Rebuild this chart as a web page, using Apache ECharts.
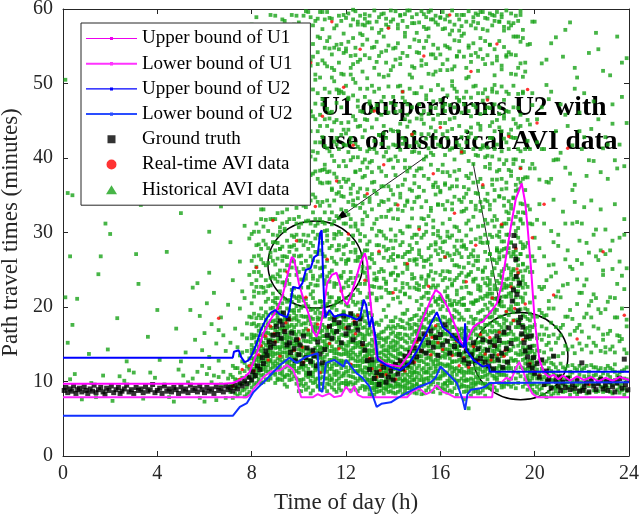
<!DOCTYPE html>
<html><head><meta charset="utf-8">
<script src="https://cdn.jsdelivr.net/npm/echarts/dist/echarts.min.js"></script>
<style>html,body{margin:0;padding:0;background:#fff}#c{width:639px;height:520px}</style>
</head><body><div id="c"></div>
<script>
// ---- axis ticks ----
const xTicks = [0, 4, 8, 12, 16, 20, 24];
const yTicks = [0, 10, 20, 30, 40, 50, 60];

// ---- bound lines: [hour, minutes] ----
const upperU1 = [[0,9.7],[6.8,9.7],[7.2,9.8],[7.5,10.2],[7.7,10.6],[7.9,11.2],[8.06,12.5],[8.3,14.5],[8.5,16.5],[8.8,18.3],[9.06,19.6],[9.3,21.4],[9.5,24],[9.7,26.7],[9.8,26.4],[10.0,23.2],[10.2,21],[10.4,19.2],[10.6,16.8],[10.75,16],[10.9,17.2],[11.0,18.7],[11.2,23.2],[11.4,24.3],[11.6,24.6],[11.75,23],[11.9,21],[12.05,20.3],[12.2,21.5],[12.4,23.5],[12.6,25.8],[12.8,27.2],[12.9,26],[13.0,22],[13.1,18.7],[13.3,13.3],[13.6,12.5],[13.9,12.2],[14.3,12],[14.7,13.8],[15.0,16],[15.3,18.7],[15.6,21],[15.8,22.3],[16.0,21.8],[16.3,20],[16.5,18.5],[16.7,16.9],[16.85,15.5],[17.0,14.5],[17.2,16],[17.4,17.3],[17.6,17.8],[17.8,18],[18.0,18.8],[18.2,19.6],[18.4,20.5],[18.6,23],[18.8,27],[19.0,31],[19.2,34.5],[19.45,36.6],[19.6,34],[19.7,30.7],[19.85,25],[20.0,18.2],[20.2,12.9],[20.4,11.2],[20.6,10.6],[20.8,10.9],[21.0,10.3],[21.2,10.8],[21.5,10.1],[21.8,10.7],[22.1,10.2],[22.4,10.6],[22.7,10.0],[23.0,10.5],[23.3,10.1],[23.6,10.6],[24,10.2]];
const lowerU1 = [[0,7.9],[7.8,7.9],[7.95,8.3],[8.06,8.9],[8.3,9.8],[8.5,10.6],[8.8,11.3],[9.2,11.5],[9.5,12.2],[9.75,11.6],[9.9,10.5],[10.0,8.9],[10.1,7.9],[10.6,7.9],[10.8,8.3],[11.0,8.0],[11.3,8.4],[11.5,7.9],[11.8,8.1],[12.0,9.3],[12.2,8.5],[12.35,9.4],[12.5,8.2],[12.7,7.9],[14.6,7.9],[14.8,8.6],[15.1,9.1],[15.4,8.3],[15.6,8.6],[15.85,9.5],[16.1,8.6],[16.3,8.4],[16.6,7.9],[18.2,7.9],[18.25,9.8],[18.6,9.9],[18.8,10.5],[19.0,10.2],[19.2,11.8],[19.35,12.6],[19.5,11.5],[19.7,9.6],[19.9,8.4],[20.1,7.9],[24,7.9]];
const upperU2 = [[0,13.2],[7.2,13.2],[7.25,14.0],[7.45,14.2],[7.55,13.3],[7.7,12.6],[7.85,12.8],[8.0,13.5],[8.2,15.0],[8.4,17.0],[8.6,18.3],[8.8,19.2],[9.0,19.6],[9.2,19.0],[9.5,18.6],[9.6,19.6],[9.75,22.7],[10.0,22.5],[10.15,23.2],[10.3,25.0],[10.5,25.2],[10.65,26.7],[10.8,27.0],[10.9,29.9],[10.97,30.3],[11.02,25],[11.07,21],[11.12,18.6],[11.3,19.6],[11.5,18.7],[11.7,18.9],[11.9,19.0],[12.2,18.7],[12.45,18.3],[12.6,18.6],[12.75,21.0],[12.85,20.3],[13.0,17.3],[13.1,18.7],[13.25,16],[13.35,12.9],[13.7,12.2],[14.0,11.8],[14.3,11.5],[14.7,12.5],[15.1,14.6],[15.4,16.5],[15.6,17.8],[15.85,19.3],[16.1,17.3],[16.4,16.5],[16.8,15.2],[17.0,14.6],[17.05,17.8],[17.1,14.2],[17.4,12.9],[17.8,12.0],[18.05,12.2],[18.1,11.3],[24,11.3]];
const lowerU2 = [[0,5.4],[7.2,5.4],[7.3,5.8],[7.5,6.6],[7.8,7.1],[8.06,8.5],[8.3,9.3],[8.6,10.2],[8.9,11.2],[9.2,12.2],[9.6,13.2],[9.9,12.5],[10.3,13.3],[10.8,13.8],[10.88,8.9],[11.0,8.6],[11.15,12.5],[11.5,12.9],[11.9,12.0],[12.0,12.9],[12.45,11.1],[12.7,10.5],[13.0,9.3],[13.2,7.5],[13.3,6.6],[13.5,7.0],[13.9,7.2],[14.2,7.8],[14.6,8.5],[15.1,9.3],[15.6,9.9],[15.8,10.5],[16.0,12.0],[16.3,11.1],[16.7,9.8],[16.95,7.5],[17.05,6.2],[17.15,8.3],[17.3,8.9],[17.7,9.1],[17.9,9.3],[18.1,9.8],[24,9.9]];

// ---- ground truth: [hour, minutes] ----
const groundTruth = [[0.05,8.8],[0.12,9.2],[0.2,8.5],[0.3,9.0],[0.38,8.7],[0.45,9.4],[0.55,8.4],[0.62,8.9],[0.7,9.1],[0.8,8.6],[0.9,9.3],[0.98,8.8],[1.05,8.4],[1.15,9.0],[1.25,8.7],[1.32,9.5],[1.4,8.5],[1.5,8.9],[1.6,9.2],[1.7,8.6],[1.78,8.3],[1.85,9.1],[1.95,8.8],[2.05,9.4],[2.15,8.5],[2.25,8.9],[2.35,9.2],[2.42,8.4],[2.5,8.7],[2.6,9.0],[2.7,9.5],[2.8,8.6],[2.9,8.9],[3.0,8.4],[3.1,9.2],[3.2,8.8],[3.3,9.0],[3.4,8.5],[3.5,9.3],[3.6,8.7],[3.7,8.9],[3.8,9.6],[3.9,8.5],[4.0,8.8],[4.1,9.1],[4.2,8.4],[4.3,9.4],[4.4,8.7],[4.5,9.0],[4.6,8.6],[4.7,9.2],[4.8,8.9],[4.9,8.4],[5.0,9.3],[5.1,8.7],[5.2,9.0],[5.3,8.5],[5.4,9.5],[5.5,8.8],[5.6,9.1],[5.7,8.6],[5.8,9.4],[5.9,8.9],[6.0,8.5],[6.1,9.2],[6.2,8.7],[6.3,9.0],[6.4,8.4],[6.5,9.3],[6.6,8.8],[6.7,9.1],[6.8,8.6],[6.9,9.4],[7.0,8.9],[7.1,9.2],[7.2,8.7],[7.3,9.5],[7.4,9.0],[7.5,9.8],
[7.6,9.4],[7.7,10.1],[7.8,9.7],[7.9,10.6],[8.0,10.2],[8.05,11.3],[8.15,10.8],[8.25,12.1],[8.35,11.6],[8.45,13.2],[8.5,12.4],[8.6,14.1],[8.65,13.5],[8.75,15.3],[8.8,14.6],[8.9,16.2],[8.95,15.1],[9.05,17.4],[9.1,16.3],[9.2,18.1],[9.25,15.8],[9.3,17.6],[9.35,19.2],[9.4,16.7],[9.5,14.9],[9.55,18.4],
[9.6,15.2],[9.65,13.9],[9.7,16.5],[9.8,14.4],[9.85,12.8],[9.9,15.6],[10.0,13.6],[10.05,14.9],[10.15,12.4],[10.2,16.1],[10.3,13.2],[10.35,14.5],[10.45,11.1],[10.5,12.7],[10.6,14.2],[10.65,13.4],[10.75,12.1],[10.8,15.3],[10.9,13.7],[11.0,12.5],
[11.1,14.3],[11.2,16.2],[11.3,17.4],[11.4,15.8],[11.5,18.3],[11.6,16.7],[11.7,17.9],[11.8,15.2],[11.9,18.8],[12.0,16.4],[12.1,17.2],[12.2,19.1],[12.3,15.6],[12.4,17.8],[12.5,16.9],[12.6,18.4],[12.7,15.1],[12.8,14.2],[12.9,12.8],
[13.0,11.6],[13.1,12.9],[13.2,10.4],[13.3,11.2],[13.4,9.6],[13.5,10.8],[13.6,11.9],[13.7,9.9],[13.8,10.6],[13.9,11.4],[14.0,10.2],[14.1,12.3],[14.2,11.0],[14.3,12.8],[14.4,11.7],[14.5,13.4],[14.6,12.2],[14.7,13.9],[14.8,12.6],
[14.9,14.5],[15.0,13.3],[15.1,15.7],[15.2,14.1],[15.3,16.4],[15.4,13.8],[15.5,15.2],[15.6,16.8],[15.7,14.6],[15.8,15.9],[15.9,13.5],[16.0,16.3],[16.1,14.9],[16.2,17.6],[16.3,15.4],[16.4,13.8],[16.5,16.2],[16.6,14.7],[16.7,15.8],[16.8,13.6],[16.9,14.9],[17.0,12.9],[17.1,14.1],[17.2,12.4],[17.3,13.6],[17.4,15.2],[17.5,12.8],[17.6,14.4],[17.7,13.1],[17.8,15.6],[17.9,12.6],
[18.0,14.2],[18.05,12.1],[18.1,15.3],[18.2,13.4],[18.25,11.7],[18.3,14.8],[18.4,16.1],[18.45,12.9],[18.5,15.5],[18.6,13.8],[18.65,11.9],[18.7,16.6],[18.8,14.4],[18.85,12.6],[18.9,17.2],[19.0,15.1],[19.05,20.8],[19.1,22.3],[19.12,29.6],[19.15,28.2],[19.2,26.4],[19.22,24.1],[19.25,21.7],[19.3,19.5],[19.32,17.9],[19.35,23.2],[19.4,18.6],[19.45,16.4],[19.5,17.3],[19.55,15.2],[19.6,14.1],[19.65,16.0],[19.7,13.3],[19.75,12.2],[19.8,14.6],[19.85,16.1],[19.9,11.8],[19.95,13.2],[20.0,11.1],[20.1,12.4],[20.2,10.6],[20.3,12.9],[20.5,11.4],[20.6,10.3],[20.8,13.4],
[20.4,9.6],[20.55,10.0],[20.7,9.1],[20.9,10.2],[21.0,9.4],[21.05,10.6],[21.1,8.8],[21.2,9.9],[21.3,9.2],[21.4,10.4],[21.5,8.9],[21.6,9.6],[21.7,9.1],[21.8,10.1],[21.9,8.7],[22.0,12.5],[22.05,8.8],[22.1,9.3],[22.2,9.8],[22.3,8.6],[22.4,10.2],[22.5,9.4],[22.6,8.9],[22.7,9.7],[22.8,10.3],[22.9,9.0],[23.0,9.5],[23.05,10.1],[23.1,8.8],[23.2,10.0],[23.3,9.3],[23.4,8.6],[23.5,9.8],[23.6,10.4],[23.7,9.1],[23.8,13.0],[23.85,9.6],[23.95,8.9]];

// ---- real-time AVI data: [hour, minutes] ----
const realTimeAVI = [[6.6,18.5],[7.2,9.4],[7.5,10.3],[7.6,11.6],[7.8,36.2],[7.9,12.1],[8.1,11.4],[8.2,25.3],[8.3,13.6],[8.4,14.8],[8.5,47.2],[8.6,16.1],[8.7,12.9],[8.8,17.4],[8.9,31.6],[8.95,16.4],[9.0,15.3],[9.1,19.8],[9.2,13.4],[9.3,42.5],[9.4,16.8],[9.45,17.9],[9.5,24.7],[9.6,18.3],[9.7,56.1],[9.8,14.2],[9.9,28.9],[10.0,15.7],[10.1,38.4],[10.15,14.6],[10.2,12.6],[10.3,21.3],[10.4,16.9],[10.5,52.8],[10.6,13.8],[10.7,33.5],[10.8,17.7],[10.9,11.2],[11.0,45.6],[11.1,19.2],[11.2,26.4],[11.25,17.3],[11.3,15.1],[11.4,58.3],[11.5,18.6],[11.6,36.9],[11.7,14.4],[11.8,22.1],[11.9,49.5],[12.0,17.2],[12.1,29.8],[12.2,12.3],[12.3,41.7],[12.35,18.1],[12.4,16.4],[12.5,18.9],[12.6,54.6],[12.7,14.9],[12.8,23.6],[12.9,35.2],[13.0,13.1],[13.1,11.7],[13.2,46.3],[13.3,10.6],[13.4,27.5],[13.45,11.5],[13.5,12.2],[13.6,39.1],[13.7,10.9],[13.8,57.4],[13.9,11.8],[14.0,21.9],[14.1,10.3],[14.2,33.7],[14.3,12.7],[14.4,48.9],[14.5,11.4],[14.6,25.8],[14.7,13.9],[14.8,43.2],[14.9,12.6],[15.0,15.3],[15.1,30.4],[15.2,14.1],[15.3,53.7],[15.4,16.2],[15.5,22.8],[15.6,13.6],[15.65,15.9],[15.7,37.9],[15.8,17.5],[15.9,15.2],[16.0,44.1],[16.1,14.3],[16.2,26.7],[16.3,16.8],[16.4,59.2],[16.5,13.5],[16.6,32.6],[16.7,15.4],[16.8,12.1],[16.9,40.8],[17.0,13.2],[17.1,23.4],[17.2,11.9],[17.3,51.6],[17.4,14.7],[17.5,28.3],[17.6,12.8],[17.7,16.3],[17.8,36.4],[17.9,13.7],[18.0,47.8],[18.1,15.9],[18.15,12.9],[18.2,21.2],[18.3,14.8],[18.4,55.3],[18.45,13.6],[18.5,16.6],[18.6,31.1],[18.7,13.4],[18.75,14.2],[18.8,19.4],[18.9,42.9],[19.0,22.7],[19.1,18.2],[19.15,19.8],[19.2,27.9],[19.25,25.1],[19.3,24.6],[19.4,38.6],[19.5,15.6],[19.6,20.4],[19.7,49.2],[19.8,12.4],[19.9,29.3],[20.0,11.3],[20.1,44.7],[20.2,10.8],[20.4,33.8],[20.6,9.9],[20.8,21.6],[21.1,10.4],[21.4,41.3],[21.8,15.7],[22.3,9.6],[22.9,27.4],[23.4,10.1],[23.8,18.9]];

// ---- historical AVI data: flat pairs, hour*10, minutes*10 ----
const histNight = [3,103, 8,76, 12,98, 17,108, 21,74, 26,101, 30,112, 34,77, 39,105, 43,96, 47,73, 51,108, 55,104, 58,78, 61,110, 63,99, 65,75, 66,106, 68,113, 69,78, 5,110, 14,79, 24,107, 37,112, 45,79, 53,99, 57,113, 60,73, 64,108, 67,96, 70,104, 62,118, 59,121, 28,115, 49,116,
2,152, 6,211, 11,137, 16,268, 19,143, 23,185, 27,127, 32,231, 36,160, 41,129, 44,274, 48,171, 52,139, 54,196, 56,156, 57,232, 58,188, 59,142, 60,165, 61,205, 62,133, 63,177, 64,219, 65,151, 66,128, 67,186, 68,162, 69,141, 70,203, 55,226, 62,246, 66,169, 50,127, 40,196,
1,505, 4,350, 9,419, 13,568, 18,312, 22,445, 25,383, 29,527, 33,337, 38,472, 42,398, 46,551, 50,326, 53,412, 56,359, 59,486, 62,301, 64,388, 67,335, 69,452, 31,271, 15,244, 20,298, 2,353, 3,268, 1,213, 4,176];
const histDawn = [71,86, 72,94, 73,103, 74,81, 75,112, 76,97, 77,89, 78,120, 79,105, 71,109, 72,78, 73,91, 74,118, 75,84, 76,127, 77,99, 78,92, 79,131, 71,95, 72,121, 73,84, 74,102, 75,96, 76,88, 77,114, 78,107, 79,86, 70,92, 74,93, 76,105, 78,83, 79,117, 77,125, 75,135, 73,118, 72,106, 76,139, 78,141, 79,98, 77,80,
71,152, 73,171, 74,146, 75,198, 76,163, 77,212, 78,158, 79,187, 72,236, 76,221, 78,178, 79,243,
71,287, 73,342, 75,261, 76,415, 77,309, 78,376, 79,292, 74,488];
const histH08 = [80,101, 81,117, 82,129, 83,143, 84,108, 85,152, 86,137, 87,165, 88,149, 89,172,
80,124, 81,96, 82,141, 83,118, 84,133, 85,121, 86,158, 87,127, 88,181, 89,139,
80,138, 81,131, 82,107, 83,156, 84,147, 85,109, 86,119, 87,146, 88,129, 89,191,
80,112, 81,145, 82,118, 83,99, 84,162, 85,138, 86,172, 87,113, 88,163, 89,155,
80,149, 81,106, 82,153, 83,134, 84,121, 85,176, 86,103, 87,189, 88,117, 89,124,
80,92, 81,159, 82,98, 83,127, 84,185, 85,144, 86,149, 87,134, 88,141, 89,208,
80,163, 81,123, 82,174, 83,168, 84,116, 85,99, 86,183, 87,156, 88,198, 89,111,
80,131, 81,178, 82,133, 83,111, 84,141, 85,164, 86,126, 87,102, 88,127, 89,181,
80,177, 81,139, 82,162, 83,189, 84,198, 85,127, 86,207, 87,176, 88,109, 89,147,
80,231, 81,268, 82,312, 83,247, 84,389, 85,226, 86,284, 87,455, 88,239, 89,297,
80,356, 81,442, 82,254, 83,518, 84,278, 85,331, 86,236, 87,302, 88,376, 89,262,
80,579, 81,301, 82,397, 83,284, 84,242, 85,468, 86,349, 87,259, 88,541, 89,318,
81,221, 83,362, 85,289, 87,228, 89,411, 82,227, 84,318, 86,426, 88,267, 89,576];
const histH09 = [90,121, 91,146, 92,103, 93,168, 94,187, 95,134, 96,159, 97,112, 98,142, 99,176,
90,154, 91,118, 92,171, 93,139, 94,96, 95,162, 96,188, 97,151, 98,107, 99,128,
90,182, 91,167, 92,137, 93,114, 94,151, 95,109, 96,127, 97,195, 98,173, 99,149,
90,98, 91,191, 92,158, 93,192, 94,128, 95,183, 96,102, 97,134, 98,124, 99,104,
90,137, 91,104, 92,199, 93,157, 94,172, 95,146, 96,147, 97,168, 98,196, 99,163,
90,206, 91,131, 92,122, 93,102, 94,211, 95,121, 96,174, 97,121, 98,154, 99,188,
90,113, 91,158, 92,146, 93,126, 94,139, 95,198, 96,115, 97,183, 98,117, 99,137,
90,169, 91,212, 92,111, 93,181, 94,106, 95,152, 96,209, 97,103, 98,185, 99,201,
90,145, 91,124, 92,183, 93,205, 94,163, 95,172, 96,136, 97,158, 98,131, 99,114,
90,192, 91,179, 92,129, 93,147, 94,119, 95,93, 96,166, 97,216, 98,164, 99,152,
90,238, 91,265, 92,301, 93,347, 94,229, 95,412, 96,274, 97,253, 98,318, 99,367,
90,453, 91,326, 92,249, 93,281, 94,389, 95,236, 96,502, 97,342, 98,261, 99,434,
90,287, 91,528, 92,372, 93,233, 94,305, 95,267, 96,359, 97,471, 98,225, 99,297,
90,361, 91,244, 92,447, 93,586, 94,268, 95,331, 96,243, 97,398, 98,545, 99,252,
90,512, 91,392, 92,278, 93,426, 94,563, 95,289, 96,421, 97,281, 98,376, 99,591,
90,276, 91,296, 92,558, 93,312, 94,467, 95,498, 96,318, 97,564, 98,283, 99,333];
const histH10 = [100,126, 101,148, 102,103, 103,171, 104,92, 105,137, 106,184, 107,115, 108,159, 109,132,
100,167, 101,87, 102,155, 103,121, 104,143, 105,196, 106,98, 107,172, 108,124, 109,208,
100,95, 101,176, 102,132, 103,204, 104,117, 105,84, 106,141, 107,157, 108,93, 109,146,
100,143, 101,121, 102,187, 103,89, 104,168, 105,153, 106,126, 107,99, 108,186, 109,112,
100,208, 101,199, 102,116, 103,145, 104,201, 105,112, 106,173, 107,134, 108,141, 109,171,
100,112, 101,136, 102,94, 103,163, 104,129, 105,177, 106,107, 107,192, 108,117, 109,89,
100,181, 101,102, 102,168, 103,108, 104,154, 105,124, 106,157, 107,118, 108,172, 109,158,
100,154, 101,163, 102,141, 103,136, 104,106, 105,141, 106,212, 107,167, 108,104, 109,123,
100,102, 101,213, 102,201, 103,187, 104,182, 105,163, 106,121, 107,145, 108,197, 109,184,
100,136, 101,128, 102,125, 103,97, 104,138, 105,101, 106,88, 107,206, 108,131, 109,97,
100,247, 101,289, 102,336, 103,262, 104,418, 105,231, 106,301, 107,254, 108,372, 109,276,
100,392, 101,237, 102,468, 103,315, 104,278, 105,531, 106,263, 107,347, 108,229, 109,443,
100,289, 101,511, 102,251, 103,384, 104,226, 105,312, 106,456, 107,292, 108,587, 109,318,
100,564, 101,338, 102,297, 103,243, 104,349, 105,268, 106,379, 107,505, 108,271, 109,252,
100,321, 101,426, 102,591, 103,487, 104,296, 105,402, 106,238, 107,318, 108,436, 109,561,
100,473, 101,269, 102,386, 103,552, 104,523, 105,343, 106,578, 107,421, 108,312, 109,367];
const histH11 = [110,131, 111,92, 112,158, 113,117, 114,176, 115,143, 116,101, 117,188, 118,125, 119,162,
110,97, 111,149, 112,123, 113,184, 114,104, 115,165, 116,138, 117,96, 118,173, 119,111,
110,168, 111,118, 112,191, 113,141, 114,129, 115,89, 116,177, 117,147, 118,107, 119,194,
110,145, 111,173, 112,104, 113,96, 114,156, 115,202, 116,114, 117,128, 118,152, 119,137,
110,113, 111,201, 112,136, 113,163, 114,92, 115,124, 116,196, 117,169, 118,88, 119,122,
110,187, 111,133, 112,87, 113,207, 114,141, 115,109, 116,153, 117,104, 118,189, 119,171,
110,154, 111,104, 112,172, 113,129, 114,199, 115,181, 116,86, 117,212, 118,136, 119,98,
110,106, 111,161, 112,146, 113,108, 114,117, 115,138, 116,168, 117,137, 118,118, 119,151,
110,201, 111,187, 112,113, 113,174, 114,167, 115,158, 116,122, 117,91, 118,206, 119,183,
110,122, 111,127, 112,204, 113,151, 114,186, 115,97, 116,207, 117,159, 118,163, 119,108,
110,253, 111,302, 112,241, 113,367, 114,282, 115,448, 116,231, 117,319, 118,264, 119,396,
110,341, 111,236, 112,413, 113,279, 114,521, 115,261, 116,352, 117,487, 118,298, 119,247,
110,472, 111,385, 112,296, 113,234, 114,327, 115,574, 116,276, 117,241, 118,431, 119,312,
110,286, 111,527, 112,343, 113,461, 114,249, 115,315, 116,492, 117,368, 118,553, 119,271,
110,596, 111,268, 112,557, 113,318, 114,403, 115,232, 116,418, 117,277, 118,349, 119,512,
110,384, 111,452, 112,262, 113,588, 114,359, 115,379, 116,297, 117,546, 118,242, 119,438];
const histH12 = [120,126, 121,153, 122,99, 123,178, 124,136, 125,112, 126,164, 127,141, 128,93, 129,118,
120,171, 121,108, 122,142, 123,121, 124,89, 125,189, 126,104, 127,172, 128,156, 129,136,
120,94, 121,186, 122,167, 123,145, 124,158, 125,133, 126,197, 127,115, 128,127, 129,92,
120,148, 121,127, 122,118, 123,96, 124,203, 125,162, 126,128, 127,94, 128,181, 129,164,
120,203, 121,96, 122,191, 123,162, 124,114, 125,87, 126,146, 127,158, 128,107, 129,127,
120,113, 121,167, 122,131, 123,207, 124,172, 125,148, 126,91, 127,204, 128,142, 129,103,
120,182, 121,139, 122,88, 123,113, 124,98, 125,121, 126,177, 127,131, 128,173, 129,149,
120,137, 121,201, 122,153, 123,185, 124,146, 125,206, 126,116, 127,102, 128,119, 129,112,
120,101, 121,114, 122,212, 123,131, 124,187, 125,101, 126,153, 127,186, 128,194, 129,178,
120,161, 121,176, 122,107, 123,153, 124,121, 125,174, 126,139, 127,147, 128,89, 129,132,
120,258, 121,324, 122,239, 123,401, 124,277, 125,346, 126,231, 127,462, 128,295, 129,252,
120,417, 121,263, 122,359, 123,286, 124,538, 125,242, 126,384, 127,271, 128,327, 129,493,
120,312, 121,481, 122,274, 123,232, 124,336, 125,415, 126,298, 127,565, 128,246, 129,358,
120,547, 121,291, 122,521, 123,343, 124,262, 125,579, 126,443, 127,317, 128,398, 129,284,
120,368, 121,236, 122,427, 123,506, 124,451, 125,303, 126,267, 127,374, 128,587, 129,236,
120,233, 121,438, 122,308, 123,599, 124,381, 125,267, 126,532, 127,248, 128,452, 129,409];
const histH13 = [130,83, 131,112, 132,97, 133,143, 134,121, 135,88, 136,156, 137,104, 138,131, 139,95,
130,126, 131,91, 132,138, 133,86, 134,163, 135,117, 136,99, 137,142, 138,86, 139,152,
130,151, 131,134, 132,82, 133,118, 134,94, 135,147, 136,123, 137,89, 138,109, 139,118,
130,98, 131,167, 132,116, 133,103, 134,138, 135,101, 136,84, 137,171, 138,147, 139,87,
130,172, 131,103, 132,153, 133,161, 134,87, 135,131, 136,142, 137,118, 138,96, 139,136,
130,109, 131,82, 132,104, 133,92, 134,152, 135,182, 136,108, 137,96, 138,174, 139,103,
130,137, 131,148, 132,177, 133,127, 134,109, 135,94, 136,167, 137,153, 138,121, 139,164,
130,89, 131,121, 132,92, 133,179, 134,176, 135,158, 136,91, 137,127, 138,138, 139,112,
130,192, 131,189, 132,126, 133,108, 134,99, 135,109, 136,136, 137,187, 138,101, 139,181,
130,117, 131,98, 132,164, 133,97, 134,128, 135,123, 136,196, 137,111, 138,159, 139,94,
130,218, 131,264, 132,312, 133,236, 134,387, 135,251, 136,296, 137,223, 138,344, 139,267,
130,341, 131,228, 132,412, 133,283, 134,247, 135,476, 136,238, 137,321, 138,219, 139,398,
130,473, 131,367, 132,245, 133,529, 134,302, 135,226, 136,433, 137,276, 138,511, 139,243,
130,266, 131,497, 132,356, 133,318, 134,568, 135,342, 136,281, 137,408, 138,262, 139,583,
130,582, 131,305, 132,549, 133,212, 134,431, 135,593, 136,362, 137,544, 138,397, 139,331,
130,394, 131,441, 132,227, 133,452, 134,272, 135,382, 136,509, 137,234, 138,461, 139,289];
const histH14 = [140,92, 141,123, 142,86, 143,147, 144,109, 145,132, 146,97, 147,158, 148,118, 149,141,
140,134, 141,97, 142,152, 143,104, 144,83, 145,171, 146,126, 147,91, 148,163, 149,102,
140,117, 141,161, 142,112, 143,88, 144,146, 145,95, 146,152, 147,134, 148,87, 149,177,
140,166, 141,84, 142,131, 143,173, 144,127, 145,112, 146,84, 147,113, 148,141, 149,123,
140,85, 141,142, 142,103, 143,126, 144,191, 145,154, 146,178, 147,171, 148,102, 149,94,
140,147, 141,109, 142,176, 143,96, 144,101, 145,86, 146,109, 147,99, 148,184, 149,156,
140,103, 141,186, 142,94, 143,157, 144,158, 145,191, 146,143, 147,146, 148,127, 149,112,
140,181, 141,132, 142,143, 143,115, 144,93, 145,121, 146,196, 147,85, 148,96, 149,188,
140,126, 141,101, 142,164, 143,138, 144,116, 145,102, 146,118, 147,183, 148,153, 149,131,
140,155, 141,172, 142,121, 143,183, 144,173, 145,143, 146,91, 147,124, 148,112, 149,85,
140,246, 141,289, 142,213, 143,352, 144,267, 145,424, 146,231, 147,308, 148,278, 149,376,
140,319, 141,236, 142,396, 143,221, 144,481, 145,258, 146,341, 147,512, 148,244, 149,297,
140,523, 141,377, 142,268, 143,446, 144,299, 145,563, 146,274, 147,226, 148,408, 149,239,
140,271, 141,548, 142,331, 143,283, 144,364, 145,217, 146,472, 147,387, 148,581, 149,433,
140,436, 141,253, 142,574, 143,497, 144,226, 145,336, 146,598, 147,263, 148,319, 149,521,
140,387, 141,462, 142,242, 143,591, 144,419, 145,387, 146,256, 147,449, 148,356, 149,262];
const histH15 = [150,97, 151,134, 152,116, 153,162, 154,88, 155,147, 156,181, 157,123, 158,158, 159,104,
150,141, 151,89, 152,172, 153,103, 154,138, 155,112, 156,96, 157,194, 158,117, 159,167,
150,118, 151,163, 152,94, 153,147, 154,171, 155,189, 156,141, 157,86, 158,136, 159,203,
150,176, 151,111, 152,141, 153,84, 154,123, 155,92, 156,163, 157,148, 158,207, 159,128,
150,84, 151,182, 152,128, 153,191, 154,104, 155,168, 156,118, 157,171, 158,93, 159,146,
150,153, 151,146, 152,203, 153,126, 154,193, 155,132, 156,202, 157,112, 158,162, 159,91,
150,129, 151,102, 152,83, 153,112, 154,149, 155,211, 156,87, 157,139, 158,121, 159,183,
150,189, 151,197, 152,157, 153,173, 154,113, 155,101, 156,129, 157,99, 158,184, 159,114,
150,106, 151,127, 152,186, 153,139, 154,162, 155,157, 156,152, 157,213, 158,104, 159,158,
150,164, 151,168, 152,107, 153,96, 154,184, 155,123, 156,174, 157,161, 158,146, 159,136,
150,232, 151,276, 152,319, 153,254, 154,402, 155,241, 156,283, 157,361, 158,226, 159,337,
150,383, 151,229, 152,458, 153,297, 154,262, 155,513, 156,248, 157,298, 158,427, 159,271,
150,297, 151,541, 152,267, 153,376, 154,231, 155,322, 156,468, 157,237, 158,582, 159,302,
150,568, 151,348, 152,524, 153,227, 154,479, 155,264, 156,391, 157,539, 158,287, 159,458,
150,453, 151,417, 152,238, 153,593, 154,311, 155,432, 156,586, 157,316, 158,367, 159,229,
150,264, 151,307, 152,386, 153,446, 154,557, 155,596, 156,333, 157,452, 158,516, 159,384];
const histH16 = [160,118, 161,152, 162,97, 163,173, 164,131, 165,86, 166,144, 167,109, 168,162, 169,126,
160,91, 161,123, 162,164, 163,112, 164,98, 165,157, 166,186, 167,137, 168,92, 169,171,
160,146, 161,187, 162,121, 163,85, 164,168, 165,119, 166,103, 167,194, 168,141, 169,104,
160,172, 161,96, 162,143, 163,136, 164,117, 165,202, 166,127, 167,82, 168,183, 169,148,
160,104, 161,167, 162,186, 163,154, 164,203, 165,139, 166,162, 167,153, 168,114, 169,93,
160,197, 161,134, 162,109, 163,196, 164,88, 165,98, 166,91, 167,118, 168,207, 169,186,
160,132, 161,108, 162,207, 163,101, 164,149, 165,173, 166,208, 167,171, 168,129, 169,137,
160,158, 161,201, 162,132, 163,123, 164,183, 165,107, 166,114, 167,96, 168,101, 169,159,
160,211, 161,143, 162,89, 163,213, 164,107, 165,188, 166,151, 167,204, 168,154, 169,117,
160,84, 161,178, 162,156, 163,143, 164,138, 165,126, 166,173, 167,146, 168,169, 169,203,
160,243, 161,287, 162,331, 163,226, 164,376, 165,263, 166,308, 167,239, 168,417, 169,281,
160,356, 161,248, 162,472, 163,295, 164,237, 165,503, 166,271, 167,362, 168,254, 169,428,
160,518, 161,391, 162,267, 163,436, 164,318, 165,229, 166,454, 167,289, 168,557, 169,246,
160,279, 161,573, 162,364, 163,549, 164,452, 165,339, 166,236, 167,481, 168,302, 169,592,
160,447, 161,312, 162,586, 163,272, 164,566, 165,413, 166,523, 167,256, 168,384, 169,341,
160,589, 161,469, 162,239, 163,381, 164,293, 165,571, 166,382, 167,537, 168,478, 169,267];
const histH17 = [170,76, 171,112, 172,93, 173,148, 174,127, 175,163, 176,104, 177,137, 178,182, 179,119,
170,124, 171,87, 172,158, 173,104, 174,92, 175,131, 176,176, 177,98, 178,141, 179,167,
170,157, 171,146, 172,116, 173,81, 174,168, 175,96, 176,128, 177,153, 178,106, 179,92,
170,101, 171,172, 172,133, 173,187, 174,111, 175,184, 176,89, 177,194, 178,123, 179,144,
170,183, 171,121, 172,64, 173,126, 174,149, 175,118, 176,162, 177,116, 178,196, 179,203,
170,139, 171,196, 172,179, 173,97, 174,204, 175,142, 176,143, 177,172, 178,88, 179,131,
170,94, 171,101, 172,142, 173,164, 174,86, 175,208, 176,117, 177,85, 178,159, 179,108,
170,168, 171,134, 172,102, 173,117, 174,137, 175,87, 176,192, 177,127, 178,134, 179,187,
170,113, 171,159, 172,196, 173,206, 174,178, 175,154, 176,99, 177,213, 178,113, 179,156,
170,203, 171,93, 172,127, 173,139, 174,102, 175,106, 176,209, 177,161, 178,171, 179,97,
170,234, 171,278, 172,316, 173,247, 174,392, 175,262, 176,229, 177,341, 178,286, 179,253,
170,361, 171,241, 172,428, 173,287, 174,256, 175,497, 176,308, 177,227, 178,414, 179,297,
170,481, 171,352, 172,259, 173,538, 174,321, 175,238, 176,446, 177,372, 178,249, 179,526,
170,283, 171,507, 172,373, 173,271, 174,583, 175,404, 176,268, 177,561, 178,334, 179,388,
170,567, 171,312, 172,551, 173,456, 174,237, 175,331, 176,592, 177,293, 178,487, 179,232,
170,329, 171,436, 172,244, 173,379, 174,471, 175,574, 176,368, 177,443, 178,596, 179,317];
const histH18 = [180,96, 181,134, 182,117, 183,168, 184,143, 185,187, 186,109, 187,152, 188,214, 189,127,
180,128, 181,91, 182,156, 183,104, 184,196, 185,121, 186,173, 187,98, 188,146, 189,238,
180,163, 181,178, 182,89, 183,137, 184,112, 185,159, 186,207, 187,184, 188,118, 189,164,
180,142, 181,112, 182,203, 183,92, 184,167, 185,98, 186,134, 187,226, 188,173, 189,102,
180,187, 181,153, 182,131, 183,211, 184,88, 185,232, 186,96, 187,117, 188,193, 189,189,
180,109, 181,206, 182,174, 183,127, 184,224, 185,142, 186,248, 187,163, 188,97, 189,141,
180,214, 181,127, 182,108, 183,181, 184,131, 185,176, 186,119, 187,93, 188,256, 189,117,
180,131, 181,168, 182,243, 183,153, 184,102, 185,109, 186,187, 187,201, 188,137, 189,218,
180,92, 181,97, 182,141, 183,229, 184,154, 185,203, 186,152, 187,136, 188,226, 189,153,
180,176, 181,224, 182,187, 183,116, 184,179, 185,264, 186,92, 187,251, 188,163, 189,273,
180,239, 181,186, 182,96, 183,197, 184,118, 185,127, 186,223, 187,178, 188,108, 189,96,
180,287, 181,331, 182,264, 183,412, 184,296, 185,348, 186,276, 187,453, 188,312, 189,384,
180,403, 181,271, 182,489, 183,322, 184,536, 185,294, 186,372, 187,288, 188,421, 189,297,
180,342, 181,552, 182,316, 183,263, 184,382, 185,468, 186,309, 187,571, 188,279, 189,462,
180,571, 181,386, 182,427, 183,498, 184,276, 185,583, 186,519, 187,346, 188,538, 189,326,
180,468, 181,443, 182,592, 183,357, 184,451, 185,398, 186,436, 187,392, 188,359, 189,574,
180,312, 181,297, 182,371, 183,584, 184,317, 185,273, 186,593, 187,278, 188,489, 189,412];
const histH19 = [190,104, 191,147, 192,182, 193,126, 194,213, 195,163, 196,97, 197,138, 198,112, 199,89,
190,156, 191,113, 192,241, 193,194, 194,141, 195,118, 196,187, 197,104, 198,157, 199,123,
190,201, 191,226, 192,129, 193,264, 194,176, 195,207, 196,131, 197,172, 198,93, 199,108,
190,131, 191,182, 192,156, 193,98, 194,287, 195,241, 196,156, 197,117, 198,182, 199,141,
190,247, 191,97, 192,213, 193,157, 194,119, 195,93, 196,218, 197,196, 198,128, 199,96,
190,178, 191,274, 192,104, 193,221, 194,248, 195,284, 196,103, 197,146, 198,206, 199,162,
190,93, 191,163, 192,296, 193,136, 194,162, 195,146, 196,249, 197,89, 198,101, 199,118,
190,268, 191,208, 192,173, 193,306, 194,107, 195,189, 196,171, 197,227, 198,144, 199,132,
190,142, 191,128, 192,118, 193,183, 194,197, 195,312, 196,124, 197,159, 198,119, 199,97,
190,219, 191,312, 192,268, 193,112, 194,318, 195,129, 196,281, 197,108, 198,168, 199,187,
190,287, 191,251, 192,91, 193,237, 194,136, 195,226, 196,139, 197,253, 198,96, 199,104,
190,337, 191,392, 192,356, 193,441, 194,367, 195,338, 196,412, 197,286, 198,331, 199,268,
190,428, 191,346, 192,512, 193,372, 194,458, 195,487, 196,326, 197,374, 198,247, 199,392,
190,539, 191,468, 192,398, 193,563, 194,527, 195,396, 196,528, 197,451, 198,412, 199,311,
190,382, 191,581, 192,446, 193,327, 194,592, 195,561, 196,374, 197,336, 198,553, 199,487,
190,594, 191,427, 192,563, 193,486, 194,409];
const histH20 = [200,97, 201,84, 202,112, 203,91, 204,106, 205,79, 206,118, 207,93, 208,101, 209,87,
200,121, 201,104, 202,89, 203,117, 204,82, 205,96, 206,108, 207,81, 208,123, 209,99,
200,86, 201,116, 202,97, 203,103, 204,124, 205,111, 206,86, 207,114, 208,92, 209,119,
200,109, 201,93, 202,128, 203,83, 204,95, 205,102, 206,97, 207,102, 208,84, 209,108,
200,133, 201,126, 202,104, 203,129, 204,113, 205,127, 206,131, 207,125, 208,112, 209,91,
200,148, 201,187, 202,163, 203,224, 204,139, 205,171, 206,256, 207,143, 208,198, 209,152,
200,213, 201,142, 202,279, 203,156, 204,188, 205,236, 206,161, 207,302, 208,134, 209,246,
200,262, 201,317, 202,141, 203,192, 204,268, 205,149, 206,208, 207,179, 208,287, 209,173,
200,386, 201,452, 202,371, 203,527, 204,412, 205,368, 206,479, 207,554, 208,397, 209,436, 200,583, 203,412, 205,498, 207,372, 209,562];
const histH21 = [210,93, 211,108, 212,86, 213,117, 214,99, 215,82, 216,112, 217,94, 218,104, 219,88,
210,114, 211,91, 212,103, 213,96, 214,121, 215,107, 216,89, 217,118, 218,83, 219,109,
210,84, 211,124, 212,119, 213,87, 214,92, 215,113, 216,101, 217,86, 218,116, 219,97,
210,102, 212,96, 214,106, 216,122, 218,95, 219,121, 211,99, 215,93,
210,158, 211,213, 212,176, 213,264, 214,143, 215,196, 216,312, 217,168, 218,237, 219,151,
210,282, 212,138, 213,187, 215,254, 216,147, 217,341, 218,172, 219,219, 214,231, 211,162,
210,398, 211,472, 212,536, 213,387, 214,443, 215,582, 216,417, 217,364, 218,508, 219,461, 213,572, 217,493];
const histH22 = [220,91, 221,107, 222,84, 223,113, 224,97, 225,88, 226,119, 227,102, 228,93, 229,111,
220,116, 221,89, 222,103, 223,94, 224,122, 225,108, 226,86, 227,115, 228,106, 229,92,
220,99, 221,118, 222,121, 223,85, 224,104, 225,96, 226,109, 227,87, 228,118, 229,101,
221,95, 223,107, 225,119, 227,98, 229,86,
220,167, 221,229, 222,148, 223,273, 224,186, 225,152, 226,304, 227,197, 228,141, 229,243,
220,258, 222,191, 224,139, 226,212, 228,276, 229,163, 221,334, 225,217,
220,412, 221,487, 222,376, 223,541, 224,439, 225,396, 226,568, 227,452, 228,381, 229,517];
const histH23 = [230,94, 231,109, 232,86, 233,116, 234,99, 235,89, 236,112, 237,97, 238,104, 239,87,
230,117, 231,92, 232,106, 233,95, 234,123, 235,108, 236,85, 237,114, 238,91, 239,119,
230,101, 231,121, 232,118, 233,84, 234,102, 235,97, 236,106, 237,88, 238,116, 239,103,
230,88, 232,98, 234,113, 236,93, 238,82,
230,146, 231,207, 232,168, 233,251, 234,139, 235,186, 236,293, 237,157, 238,224, 239,174,
230,271, 232,143, 234,212, 236,161, 238,318, 239,138,
230,428, 231,372, 232,511, 233,446, 234,397, 235,563, 236,418, 237,482, 238,389, 239,534];
const histUpperAM = [80,205, 81,247, 82,283, 83,219, 84,264, 85,308, 86,221, 87,356, 88,273, 89,241,
80,298, 81,214, 82,346, 83,301, 84,227, 85,259, 86,392, 87,211, 88,318, 89,287,
80,416, 81,372, 82,236, 83,447, 84,331, 85,493, 86,256, 87,406, 88,229, 89,362,
80,262, 81,511, 82,412, 83,269, 84,574, 85,383, 86,532, 87,279, 88,453, 89,218,
80,353, 82,589, 84,446, 86,317, 88,592, 81,427, 83,546, 85,219, 87,498, 89,521,
90,212, 91,234, 92,221, 93,268, 94,249, 95,207, 96,231, 97,296, 98,214, 99,243,
90,257, 91,203, 92,278, 93,215, 94,302, 95,256, 96,281, 97,223, 98,269, 99,212,
90,318, 91,286, 92,241, 93,327, 94,233, 95,314, 96,209, 97,338, 98,294, 99,277,
90,344, 91,358, 92,307, 93,262, 94,352, 95,366, 96,348, 97,262, 98,341, 99,312,
90,396, 91,417, 92,382, 93,397, 94,421, 95,384, 96,397, 97,431, 98,406, 99,371,
90,437, 91,462, 92,418, 93,478, 94,442, 95,451, 96,472, 97,409, 98,459, 99,482,
90,486, 91,503, 92,492, 93,516, 94,497, 95,534, 96,459, 97,521, 98,508, 99,544,
90,553, 91,571, 92,536, 93,548, 94,584, 95,577, 96,567, 97,592, 98,579, 99,528,
90,591, 91,547, 92,427, 93,373, 94,527, 95,437, 96,543, 97,483, 98,387, 99,418,
100,214, 101,226, 102,209, 103,238, 104,255, 105,217, 106,242, 107,229, 108,261, 109,207,
100,268, 101,259, 102,283, 103,211, 104,227, 105,286, 106,221, 107,274, 108,236, 109,293,
100,307, 101,312, 102,236, 103,334, 104,316, 105,248, 106,327, 107,309, 108,341, 109,241,
100,358, 101,374, 102,361, 103,288, 104,383, 105,377, 106,351, 107,382, 108,297, 109,336,
100,412, 101,398, 102,429, 103,418, 104,444, 105,436, 106,409, 107,452, 108,407, 109,421,
100,462, 101,483, 102,497, 103,453, 104,476, 105,463, 106,492, 107,473, 108,487, 109,458,
100,517, 101,539, 102,527, 103,509, 104,548, 105,524, 106,536, 107,512, 108,542, 109,508,
100,582, 101,561, 102,571, 103,597, 104,573, 105,589, 106,553, 107,584, 108,563, 109,596,
100,348, 101,433, 102,551, 103,376, 104,596, 105,462, 106,282, 107,398, 108,526, 109,383,
110,207, 111,231, 112,218, 113,246, 114,213, 115,227, 116,258, 117,211, 118,239, 119,226,
110,271, 111,254, 112,289, 113,213, 114,266, 115,292, 116,207, 117,283, 118,224, 119,281,
110,314, 111,327, 112,303, 113,336, 114,311, 115,343, 116,322, 117,301, 118,331, 119,348,
110,366, 111,391, 112,367, 113,382, 114,357, 115,396, 116,374, 117,389, 118,361, 119,372,
110,428, 111,416, 112,443, 113,409, 114,437, 115,422, 116,451, 117,412, 118,447, 119,418,
110,479, 111,493, 112,466, 113,488, 114,462, 115,503, 116,474, 117,491, 118,468, 119,487,
110,531, 111,548, 112,523, 113,547, 114,539, 115,518, 116,552, 117,528, 118,513, 119,541,
110,573, 111,586, 112,596, 113,562, 114,587, 115,548, 116,578, 117,591, 118,584, 119,567,
110,243, 111,312, 112,381, 113,453, 114,508, 115,298, 116,427, 117,354, 118,489, 119,592];
const histUpperMid = [120,212, 121,228, 122,247, 123,216, 124,239, 125,262, 126,219, 127,254, 128,231, 129,276,
120,283, 121,264, 122,217, 123,296, 124,308, 125,223, 126,289, 127,207, 128,276, 129,213,
120,329, 121,341, 122,318, 123,337, 124,312, 125,354, 126,333, 127,311, 128,349, 129,322,
120,389, 121,371, 122,397, 123,364, 124,382, 125,401, 126,359, 127,394, 128,376, 129,387,
120,433, 121,448, 122,421, 123,456, 124,419, 125,442, 126,463, 127,428, 128,437, 129,451,
120,497, 121,479, 122,512, 123,484, 124,501, 125,469, 126,493, 127,516, 128,482, 129,507,
120,543, 121,556, 122,537, 123,561, 124,548, 125,529, 126,567, 127,552, 128,538, 129,559,
120,588, 121,594, 122,578, 123,586, 124,597, 125,583, 126,591, 127,579, 128,593, 129,582,
120,262, 121,408, 122,352, 123,526, 124,273, 125,477, 126,412, 127,339, 128,578, 129,241,
130,204, 131,218, 132,237, 133,209, 134,226, 135,213, 136,248, 137,231, 138,202, 139,219,
130,288, 131,271, 132,259, 133,296, 134,283, 135,301, 136,266, 137,292, 138,278, 139,304,
130,346, 131,331, 132,368, 133,352, 134,337, 135,362, 136,341, 137,376, 138,329, 139,357,
130,412, 131,396, 132,423, 133,407, 134,431, 135,419, 136,402, 137,427, 138,414, 139,438,
130,476, 131,463, 132,489, 133,471, 134,493, 135,458, 136,482, 137,467, 138,496, 139,474,
130,534, 131,548, 132,521, 133,556, 134,537, 135,542, 136,563, 137,528, 138,551, 139,518,
130,591, 131,574, 132,598, 133,583, 134,589, 135,572, 136,594, 137,587, 138,576, 139,598,
130,253, 131,381, 132,466, 133,239, 134,512, 135,321, 136,443, 137,579, 138,362, 139,245,
140,211, 141,224, 142,243, 143,206, 144,232, 145,218, 146,251, 147,213, 148,238, 149,226,
140,279, 141,296, 142,268, 143,302, 144,287, 145,271, 146,308, 147,283, 148,293, 149,264,
140,351, 141,338, 142,362, 143,347, 144,329, 145,371, 146,343, 147,358, 148,332, 149,366,
140,418, 141,402, 142,436, 143,411, 144,427, 145,397, 146,442, 147,416, 148,431, 149,409,
140,482, 141,471, 142,496, 143,463, 144,489, 145,476, 146,458, 147,493, 148,468, 149,487,
140,547, 141,532, 142,554, 143,526, 144,541, 145,568, 146,537, 147,549, 148,523, 149,559,
140,586, 141,597, 142,579, 143,592, 144,584, 145,593, 146,576, 147,598, 148,589, 149,581,
140,263, 141,417, 142,318, 143,534, 144,246, 145,452, 146,382, 147,274, 148,508, 149,341,
150,208, 151,223, 152,241, 153,214, 154,236, 155,219, 156,257, 157,229, 158,246, 159,211,
150,286, 151,271, 152,293, 153,262, 154,301, 155,279, 156,268, 157,307, 158,284, 159,296,
150,347, 151,361, 152,334, 153,356, 154,342, 155,372, 156,329, 157,364, 158,351, 159,338,
150,421, 151,407, 152,432, 153,398, 154,426, 155,413, 156,441, 157,404, 158,436, 159,418,
150,487, 151,472, 152,495, 153,463, 154,484, 155,459, 156,491, 157,476, 158,467, 159,498,
150,542, 151,557, 152,531, 153,548, 154,526, 155,563, 156,539, 157,552, 158,534, 159,547,
150,593, 151,582, 152,597, 153,576, 154,589, 155,574, 156,598, 157,586, 158,591, 159,579,
150,257, 151,386, 152,452, 153,318, 154,573, 155,243, 156,407, 157,512, 158,276, 159,361,
150,224, 152,212, 154,219, 156,226, 158,208];
const histUpperPM = [160,214, 161,236, 162,221, 163,248, 164,209, 165,231, 166,256, 167,217, 168,243, 169,226,
160,293, 161,274, 162,288, 163,301, 164,269, 165,296, 166,281, 167,307, 168,272, 169,289,
160,354, 161,337, 162,366, 163,342, 164,359, 165,331, 166,348, 167,371, 168,344, 169,328,
160,416, 161,432, 162,404, 163,427, 164,411, 165,439, 166,398, 167,421, 168,443, 169,407,
160,478, 161,492, 162,463, 163,484, 164,471, 165,497, 166,468, 167,489, 168,476, 169,461,
160,539, 161,526, 162,551, 163,532, 164,547, 165,519, 166,558, 167,536, 168,543, 169,564,
160,588, 161,596, 162,574, 163,591, 164,583, 165,598, 166,579, 167,592, 168,586, 169,577,
160,263, 161,381, 162,447, 163,518, 164,247, 165,362, 166,493, 167,276, 168,571, 169,412,
161,208, 163,215, 165,204, 167,222, 169,211,
170,212, 171,227, 172,243, 173,218, 174,234, 175,209, 176,251, 177,222, 178,238, 179,215,
170,281, 171,296, 172,267, 173,304, 174,276, 175,291, 176,262, 177,287, 178,309, 179,274,
170,347, 171,332, 172,358, 173,341, 174,367, 175,336, 176,352, 177,329, 178,361, 179,344,
170,408, 171,421, 172,396, 173,433, 174,412, 175,427, 176,403, 177,438, 178,417, 179,401,
170,472, 171,489, 172,463, 173,481, 174,496, 175,468, 176,487, 177,459, 178,477, 179,492,
170,536, 171,521, 172,548, 173,529, 174,554, 175,541, 176,517, 177,546, 178,533, 179,557,
170,592, 171,583, 172,597, 173,578, 174,589, 175,594, 176,581, 177,596, 178,573, 179,588,
170,253, 171,376, 172,509, 173,441, 174,268, 175,353, 176,536, 177,412, 178,247, 179,462,
170,203, 172,219, 174,206, 176,224, 178,211,
180,218, 181,236, 182,247, 183,224, 184,259, 185,213, 186,241, 187,268, 188,229, 189,252,
180,286, 181,271, 182,294, 183,308, 184,279, 185,301, 186,288, 187,312, 188,297, 189,318,
180,352, 181,337, 182,364, 183,343, 184,371, 185,349, 186,358, 187,336, 188,367, 189,342,
180,414, 181,427, 182,402, 183,436, 184,418, 185,441, 186,409, 187,426, 188,397, 189,432,
180,481, 181,467, 182,493, 183,472, 184,488, 185,459, 186,496, 187,478, 188,463, 189,486,
180,538, 181,552, 182,527, 183,546, 184,531, 185,557, 186,524, 187,549, 188,536, 189,542,
180,587, 181,594, 182,578, 183,591, 184,596, 185,583, 186,589, 187,576, 188,598, 189,582,
180,263, 181,392, 182,448, 183,511, 184,276, 185,384, 186,239, 187,457, 188,328, 189,297,
180,229, 181,218, 182,212, 183,252, 184,235, 185,267, 186,308, 187,231, 188,214, 189,279,
190,214, 191,237, 192,221, 193,246, 194,229, 195,258, 190,286, 191,271, 192,302, 193,293, 194,316, 195,279,
190,332, 191,347, 192,321, 193,358, 194,339, 195,327, 190,376, 191,398, 192,364, 193,412, 194,387, 195,372,
190,438, 191,452, 192,427, 193,467, 194,443, 195,489, 190,513, 191,497, 192,538, 193,521, 194,556, 195,509,
190,578, 191,563, 192,591, 193,584, 194,597, 195,572,
196,231, 197,268, 198,312, 199,247, 196,357, 197,423, 198,386, 199,471, 196,516, 197,552, 198,445, 199,583,
192,262, 193,228, 194,271, 191,249, 190,243, 195,236];
const histUpperEve = [200,137, 201,158, 202,196, 203,174, 204,227, 205,189, 206,152, 207,241, 208,163, 209,214, 200,293, 202,338, 204,312, 206,367, 208,344, 201,421, 203,468, 205,532, 207,489, 209,398, 200,176, 202,227, 204,163, 206,198, 208,257,
210,134, 211,172, 212,229, 213,148, 214,187, 215,163, 216,251, 217,138, 218,204, 219,176, 210,297, 212,328, 214,276, 216,357, 218,314, 211,407, 213,458, 215,379, 217,521, 219,436, 210,221, 213,312, 216,184, 218,263, 219,289,
220,143, 221,186, 222,237, 223,159, 224,208, 225,174, 226,148, 227,263, 228,192, 229,156, 220,312, 222,286, 224,343, 226,268, 228,331, 221,428, 223,397, 225,476, 227,546, 229,413, 220,219, 223,202, 225,297, 227,171, 229,249,
230,139, 231,164, 232,213, 233,147, 234,186, 235,231, 236,154, 237,198, 238,143, 239,252, 230,304, 232,276, 234,338, 236,261, 238,297, 231,418, 233,472, 235,386, 237,528, 239,447, 230,197, 233,289, 235,162, 237,242, 239,183];
const histCore = [80,115, 81,128, 82,152, 83,103, 84,171, 85,135, 86,114, 87,178, 88,156, 89,119,
80,186, 81,162, 82,121, 83,176, 84,127, 85,188, 86,166, 87,141, 88,104, 89,163,
80,143, 81,109, 82,185, 83,132, 84,154, 85,116, 86,193, 87,122, 88,172, 89,134,
80,158, 81,191, 82,113, 83,147, 84,98, 85,161, 86,131, 87,152, 88,136, 89,199,
90,127, 91,138, 92,164, 93,109, 94,145, 95,177, 96,122, 97,141, 98,167, 99,134,
90,163, 91,102, 92,117, 93,152, 94,183, 95,126, 96,196, 97,129, 98,148, 99,183,
90,109, 91,154, 92,193, 93,171, 94,107, 95,157, 96,143, 97,176, 98,121, 99,97,
90,176, 91,186, 92,143, 93,133, 94,158, 95,139, 96,108, 97,207, 98,192, 99,158,
100,118, 101,142, 102,163, 103,129, 104,187, 105,108, 106,134, 107,177, 108,149, 109,166,
100,195, 101,97, 102,121, 103,154, 104,111, 105,186, 106,168, 107,103, 108,121, 109,104,
100,151, 101,188, 102,146, 103,178, 104,163, 105,129, 106,112, 107,138, 108,183, 109,143,
100,87, 101,119, 102,178, 103,112, 104,136, 105,159, 106,197, 107,156, 108,94, 109,192,
110,139, 111,116, 112,168, 113,126, 114,147, 115,177, 116,131, 117,112, 118,146, 119,127,
110,176, 111,142, 112,97, 113,158, 114,121, 115,132, 116,186, 117,174, 118,98, 119,176,
110,118, 111,193, 112,149, 113,102, 114,169, 115,113, 116,143, 117,123, 118,179, 119,143,
110,161, 111,154, 112,121, 113,191, 114,102, 115,164, 116,109, 117,156, 118,128, 119,192,
120,119, 121,134, 122,176, 123,106, 124,151, 125,127, 126,183, 127,112, 128,161, 129,141,
120,142, 121,162, 122,122, 123,168, 124,128, 125,171, 126,121, 127,163, 128,134, 129,102,
120,187, 121,98, 122,158, 123,139, 124,178, 125,114, 126,136, 127,189, 128,112, 129,169,
120,97, 121,148, 122,136, 123,189, 124,104, 125,152, 126,105, 127,126, 128,147, 129,189,
130,102, 131,126, 132,108, 133,131, 134,114, 135,97, 136,128, 137,113, 138,142, 139,106,
130,142, 131,98, 132,143, 133,112, 134,132, 135,139, 136,112, 137,158, 138,117, 139,127,
130,121, 131,156, 132,121, 133,148, 134,98, 135,114, 136,148, 137,91, 138,128, 139,146,
130,163, 131,141, 132,88, 133,93, 134,158, 135,166, 136,99, 137,134, 138,93, 139,171,
140,108, 141,117, 142,137, 143,122, 144,136, 145,104, 146,134, 147,106, 148,132, 149,113,
140,142, 141,148, 142,97, 143,93, 144,101, 145,126, 146,101, 147,141, 148,108, 149,148,
140,121, 141,93, 142,159, 143,137, 144,122, 145,163, 146,124, 147,119, 148,172, 149,103,
140,174, 141,153, 142,117, 143,164, 144,181, 145,91, 146,162, 147,176, 148,92, 149,167,
150,112, 151,121, 152,148, 153,118, 154,131, 155,105, 156,134, 157,153, 158,113, 159,123,
150,137, 151,158, 152,102, 153,152, 154,112, 155,141, 156,108, 157,127, 158,172, 159,152,
150,168, 151,93, 152,134, 153,183, 154,156, 155,179, 156,163, 157,105, 158,129, 159,97,
150,96, 151,173, 152,176, 153,99, 154,197, 155,117, 156,192, 157,182, 158,152, 159,176,
160,124, 161,113, 162,137, 163,121, 164,143, 165,112, 166,136, 167,127, 168,114, 169,132,
160,151, 161,141, 162,112, 163,163, 164,122, 165,148, 166,117, 167,163, 168,148, 169,112,
160,107, 161,163, 162,172, 163,94, 164,178, 165,182, 166,157, 167,101, 168,137, 169,164,
160,182, 161,91, 162,98, 163,181, 164,102, 165,127, 166,196, 167,143, 168,191, 169,96,
170,108, 171,127, 172,112, 173,136, 174,117, 175,124, 176,134, 177,106, 178,127, 179,137,
170,148, 171,103, 172,151, 173,112, 174,142, 175,98, 176,111, 177,146, 178,152, 179,114,
170,131, 171,163, 172,87, 173,158, 174,97, 175,171, 176,152, 177,121, 178,97, 179,176,
170,86, 171,141, 172,168, 173,91, 174,183, 175,149, 176,84, 177,182, 178,166, 179,81,
180,117, 181,146, 182,127, 183,158, 184,134, 185,113, 186,163, 187,127, 188,182, 189,143,
180,154, 181,119, 182,166, 183,141, 184,211, 185,168, 186,138, 187,214, 188,126, 189,197,
180,198, 181,193, 182,149, 183,107, 184,146, 185,243, 186,201, 187,109, 188,152, 189,121,
180,103, 181,231, 182,218, 183,192, 184,105, 185,148, 186,117, 187,168, 188,237, 189,228,
190,118, 191,156, 192,138, 193,173, 194,152, 195,137, 196,116, 197,127, 198,139, 199,112,
190,167, 191,193, 192,204, 193,148, 194,233, 195,176, 196,143, 197,163, 198,113, 199,148,
190,231, 191,128, 192,158, 193,256, 194,183, 195,257, 196,198, 197,184, 198,174, 199,127,
190,196, 191,238, 192,276, 193,204, 194,271, 195,212, 196,167, 197,102, 198,191, 199,173];

// ---- annotation (data coordinates) ----
const annotationText = 'U1 outperforms U2 with\nuse of historical AVI data';
const circleCenters = [[10.7, 25.7], [19.4, 13.4]];
const circleRadius = [2.01, 5.85];
const arrowSegments = [[[15.44, 40.3], [11.58, 31.7]], [[17.39, 39.3], [18.53, 20.0]]];

// ---- build ----
const histGroups = [histNight, histDawn, histH08, histH09, histH10, histH11, histH12, histH13, histH14, histH15, histH16, histH17, histH18, histH19, histH20, histH21, histH22, histH23, histUpperAM, histUpperMid, histUpperPM, histUpperEve, histCore];
const histData = [];
histGroups.forEach(function (g) { for (let i = 0; i + 1 < g.length; i += 2) histData.push([g[i] / 10, g[i + 1] / 10]); });

const FONT = '"Liberation Serif", "Times New Roman", serif';
const AX = '#262626';
// legend icons: tiny corner slivers pin the icon box to 51x10 so inner shapes keep their proportions
const BOX = 'M0,0L0.01,0L0,0.01Z M51,10L50.99,10L51,9.99Z ';
const iconThin = 'path://' + BOX + 'M0,4.4L51,4.4L51,5.6L0,5.6Z M24,3.5L27,3.5L27,6.5L24,6.5Z';
const iconThick = 'path://' + BOX + 'M0,4L51,4L51,6L0,6Z M24,3.3L27,3.3L27,6.7L24,6.7Z';
const iconSquare = 'path://' + BOX + 'M21.5,1L29.5,1L29.5,9L21.5,9Z';
const iconCircle = 'path://' + BOX + 'M20.5,5A5,5 0 1,0 30.5,5A5,5 0 1,0 20.5,5Z';
const iconTriangle = 'path://' + BOX + 'M25.5,0.5L31,9.5L20,9.5Z';

const chart = echarts.init(document.getElementById('c'), null, { renderer: 'canvas' });
const axisCommon = {
  type: 'value', axisLine: { show: true, onZero: false, lineStyle: { color: AX, width: 1 } },
  axisTick: { show: true, inside: true, length: 5, lineStyle: { color: AX } },
  splitLine: { show: false }
};
const option = {
  animation: false,
  backgroundColor: '#fff',
  grid: { left: 63, right: 10, top: 9, bottom: 64, containLabel: false, outerBoundsMode: 'none' },
  xAxis: [
    Object.assign({}, axisCommon, { position: 'bottom', min: xTicks[0], max: xTicks[xTicks.length - 1], interval: 4,
      axisLabel: { fontFamily: FONT, fontSize: 20, color: AX, margin: 8, hideOverlap: false },
      name: 'Time of day (h)', nameLocation: 'middle', nameGap: 35,
      nameTextStyle: { fontFamily: FONT, fontSize: 23, color: AX } }),
    Object.assign({}, axisCommon, { position: 'top', min: xTicks[0], max: xTicks[xTicks.length - 1], interval: 4, axisLabel: { show: false } })
  ],
  yAxis: [
    Object.assign({}, axisCommon, { position: 'left', min: yTicks[0], max: yTicks[yTicks.length - 1], interval: 10,
      axisLabel: { fontFamily: FONT, fontSize: 20, color: AX, margin: 10, hideOverlap: false },
      name: 'Path travel times (minutes)', nameLocation: 'middle', nameGap: 30,
      nameTextStyle: { fontFamily: FONT, fontSize: 23, color: AX } }),
    Object.assign({}, axisCommon, { position: 'right', min: yTicks[0], max: yTicks[yTicks.length - 1], interval: 10, axisLabel: { show: false } })
  ],
  legend: {
    orient: 'vertical', left: 81, top: 23, padding: [6, 18, 6, 5],
    itemWidth: 51, itemHeight: 10, itemGap: 6.2,
    backgroundColor: '#fff', borderColor: AX, borderWidth: 1, borderRadius: 0,
    textStyle: { fontFamily: FONT, fontSize: 19, color: '#000' },
    itemStyle: { borderWidth: 0 },
    selectedMode: false, z: 10,
    data: [
      { name: 'Upper bound of U1', icon: iconThin },
      { name: 'Lower bound of U1', icon: iconThick },
      { name: 'Upper bound of U2', icon: iconThin },
      { name: 'Lower bound of U2', icon: iconThick },
      { name: 'Ground truth', icon: iconSquare },
      { name: 'Real-time AVI data', icon: iconCircle },
      { name: 'Historical AVI data', icon: iconTriangle }
    ]
  },
  series: [
    { name: 'Historical AVI data', type: 'scatter', data: histData, symbol: 'rect', symbolSize: 3.8,
      itemStyle: { color: '#19a319' }, z: 1, silent: true, progressive: 0, large: false },
    { name: 'Real-time AVI data', type: 'scatter', data: realTimeAVI, symbol: 'circle', symbolSize: 3.5,
      itemStyle: { color: '#ff0000' }, z: 2, silent: true, progressive: 0 },
    { name: 'Ground truth', type: 'scatter', data: groundTruth, symbol: 'rect', symbolSize: 5,
      itemStyle: { color: '#000' }, z: 3, silent: true, progressive: 0 },
    { name: 'Upper bound of U1', type: 'line', data: upperU1, showSymbol: false, symbol: 'none',
      lineStyle: { color: '#ff00ff', width: 2 }, itemStyle: { color: '#ee00ee' }, z: 4, silent: true },
    { name: 'Lower bound of U1', type: 'line', data: lowerU1, showSymbol: false, symbol: 'none',
      lineStyle: { color: '#ff22ff', width: 2 }, itemStyle: { color: '#ff33ff' }, z: 4, silent: true },
    { name: 'Upper bound of U2', type: 'line', data: upperU2, showSymbol: false, symbol: 'none',
      lineStyle: { color: '#0000ff', width: 2 }, itemStyle: { color: '#0000ff' }, z: 4, silent: true },
    { name: 'Lower bound of U2', type: 'line', data: lowerU2, showSymbol: false, symbol: 'none',
      lineStyle: { color: '#1030ff', width: 2 }, itemStyle: { color: '#2a4dff' }, z: 4, silent: true }
  ]
};
chart.setOption(option);

function px(p) { return chart.convertToPixel({ xAxisIndex: 0, yAxisIndex: 0 }, p); }
const graphics = [];
circleCenters.forEach(function (c) {
  const o = px(c), ex = px([c[0] + circleRadius[0], c[1]]), ey = px([c[0], c[1] + circleRadius[1]]);
  graphics.push({ type: 'ellipse', z: 20, silent: true,
    shape: { cx: o[0], cy: o[1], rx: Math.abs(ex[0] - o[0]), ry: Math.abs(o[1] - ey[1]) },
    style: { fill: 'none', stroke: '#000', lineWidth: 1.5 } });
});
arrowSegments.forEach(function (s) {
  const a = px(s[0]), b = px(s[1]);
  const dx = b[0] - a[0], dy = b[1] - a[1], L = Math.sqrt(dx * dx + dy * dy);
  const ux = dx / L, uy = dy / L, hl = 11, hw = 4;
  const bx = b[0] - ux * hl, by = b[1] - uy * hl;
  graphics.push({ type: 'line', z: 20, silent: true, shape: { x1: a[0], y1: a[1], x2: bx, y2: by },
    style: { stroke: '#222', lineWidth: 1 } });
  graphics.push({ type: 'polygon', z: 20, silent: true,
    shape: { points: [[b[0], b[1]], [bx - uy * hw, by + ux * hw], [bx + uy * hw, by - ux * hw]] },
    style: { fill: '#000' } });
});
graphics.push({ type: 'text', z: 20, silent: true, x: 320, y: 91,
  style: { text: annotationText, font: 'bold 27.5px ' + FONT, fill: '#000', lineHeight: 34, verticalAlign: 'top' } });
chart.setOption({ graphic: graphics });
</script></body></html>
